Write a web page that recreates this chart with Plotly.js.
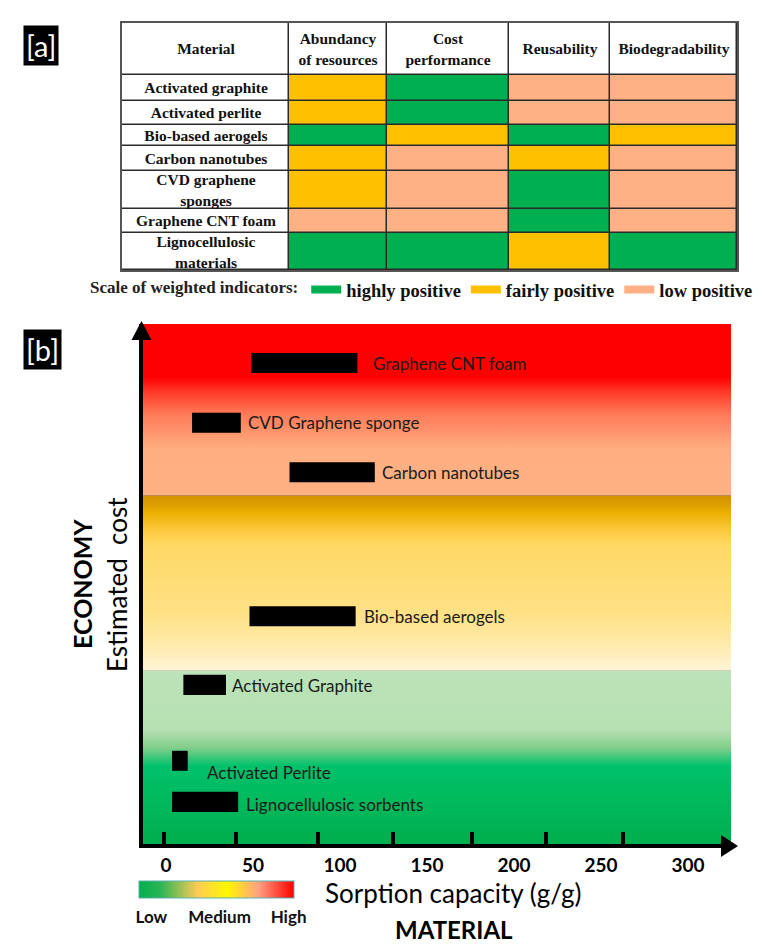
<!DOCTYPE html>
<html><head><meta charset="utf-8">
<script src="https://cdn.plot.ly/plotly-3.0.1.min.js"></script>
<style>html,body{margin:0;padding:0;background:#fff;} #chart{width:781px;height:950px;}</style>
</head><body><div id="chart"></div>
<script>
// ---------- Panel [a] data ----------
const materialsA = ['Activated graphite','Activated perlite','Bio-based aerogels','Carbon nanotubes','CVD graphene<br>sponges','Graphene CNT foam','Lignocellulosic<br>materials'];
const criteria = ['Abundancy<br>of resources','Cost<br>performance','Reusability','Biodegradability'];
const abundancy       = ['fair','fair','high','fair','fair','low','high'];
const costPerformance = ['high','high','fair','low','low','low','high'];
const reusability     = ['low','low','high','fair','high','high','fair'];
const biodegradability= ['low','low','fair','low','low','low','high'];
const scaleKeys   = ['high','fair','low'];
const scaleLabels = ['highly positive','fairly positive','low positive'];

// ---------- Panel [b] data ----------
const materialsB = ['Graphene CNT foam','CVD Graphene sponge','Carbon nanotubes','Bio-based aerogels','Activated Graphite','Activated Perlite','Lignocellulosic sorbents'];
const sorptionMin   = [49, 15, 71, 48, 10, 3.5, 3.5];
const sorptionMax   = [110, 43, 120, 109, 34.5, 12.5, 41.5];
const estimatedCost = [92.5, 81, 71.5, 43.8, 30.6, 16, 8.1];
const sorptionTicks = [0, 50, 100, 150, 200, 250, 300];
const tickMarkVals  = [-1.1, 40.2, 87.4, 130.5, 175.9, 218.4, 262.6];
const costBands     = [0, 33.3, 67, 100];
const levelLabels   = ['Low', 'Medium', 'High'];
const levelVals     = [0.08, 0.52, 0.965];

// ---------- styles / layout helpers ----------
const W = 781, H = 950;
const fx = p => p / W, fy = p => 1 - p / H;
const scaleColors = {white: '#FFFFFF', high: '#00B050', fair: '#FFC000', low: '#FFB084'};
const colWidths  = [167, 98, 122, 101, 127];
const rowHeights = [52, 26, 24, 21, 25, 38, 24, 37];
const cum = a => a.reduce((acc, v) => (acc.push(acc[acc.length - 1] + v), acc), [0]);
const xEdges = cum(colWidths), yEdges = cum(rowHeights);
const codeOf = {white: 0, high: 1, fair: 2, low: 3};
const serif = 'Liberation Serif, Times New Roman, serif';
const sans = 'Lato, Carlito, Calibri, sans-serif';
const xRange = [-13.2, 324.7];

// table heatmap
const cols = [abundancy, costPerformance, reusability, biodegradability];
const zTab = [[0, 0, 0, 0, 0]], tTab = [['Material'].concat(criteria)];
materialsA.forEach((m, i) => {
  zTab.push([0].concat(cols.map(c => codeOf[c[i]])));
  tTab.push([m, '', '', '', '']);
});

const traces = [];
// background gradient bands (base subplot, drawn beneath the overlaid bars)
const bandScales = [
  [[0,'#00AE4D'],[0.24,'#00B95C'],[0.45,'#00C16B'],[0.56,'#84CF8B'],[0.66,'#B6E0B2'],[1,'#BCE3B9']],
  [[0,'#FFF4D8'],[0.18,'#FFE9A3'],[0.33,'#FFE186'],[0.71,'#FFD966'],[0.79,'#FFCB45'],[0.90,'#EBB102'],[0.96,'#D99B00'],[1,'#D39200']],
  [[0,'#FFB183'],[0.27,'#FFAE80'],[0.47,'#FF7C5A'],[0.60,'#FF3C28'],[0.69,'#FF0000'],[1,'#FF0000']]
];
for (let b = 0; b < 3; b++) {
  const lo = costBands[b], hi = costBands[b + 1];
  traces.push({type: 'scatter', mode: 'none', x: [-40, 360, 360, -40, -40], y: [lo, lo, hi, hi, lo],
    fill: 'toself', fillgradient: {type: 'vertical', colorscale: bandScales[b], start: lo, stop: hi},
    hoverinfo: 'skip', showlegend: false, xaxis: 'x', yaxis: 'y'});
}
// range bars (overlay axis so they sit above the background)
traces.push({type: 'bar', orientation: 'h', y: estimatedCost, base: sorptionMin,
  x: sorptionMax.map((v, i) => v - sorptionMin[i]), width: 3.85,
  marker: {color: '#000000', line: {width: 0}}, showlegend: false, hoverinfo: 'skip', xaxis: 'x2', yaxis: 'y'});
// table
traces.push({type: 'heatmap', x: xEdges, y: yEdges, z: zTab, text: tTab, texttemplate: '%{text}',
  textfont: {family: serif, size: 15.5, weight: 700, color: '#111'},
  zmin: 0, zmax: 3, showscale: false, xgap: 1.5, ygap: 1.5,
  colorscale: [[0, scaleColors.white], [1/3, scaleColors.high], [2/3, scaleColors.fair], [1, scaleColors.low]],
  hoverinfo: 'skip', xaxis: 'x3', yaxis: 'y3'});
// legend entries
scaleKeys.forEach((k, i) => traces.push({type: 'scatter', mode: 'lines', x: [null], y: [null], name: scaleLabels[i],
  line: {color: scaleColors[k], width: 8}, xaxis: 'x', yaxis: 'y', hoverinfo: 'skip'}));
// colour scale key
traces.push({type: 'scatter', mode: 'markers', x: [null], y: [null], showlegend: false, hoverinfo: 'skip',
  xaxis: 'x2', yaxis: 'y',
  marker: {color: [0], cmin: 0, cmax: 1, showscale: true,
    colorscale: [[0,'#00B050'],[0.14,'#2DB454'],[0.38,'#FFCC55'],[0.57,'#FFF700'],[0.77,'#FFA183'],[1,'#FF0000']],
    colorbar: {orientation: 'h', x: fx(216.5), xanchor: 'center', y: fy(881), yanchor: 'top',
      len: 155, lenmode: 'pixels', thickness: 17, thicknessmode: 'pixels', xpad: 0, ypad: 0,
      outlinewidth: 1, outlinecolor: '#5AAFB0', ticks: 'outside', ticklen: 5, tickcolor: 'rgba(0,0,0,0)',
      tickvals: levelVals, ticktext: levelLabels,
      tickfont: {family: sans, size: 17, weight: 700, color: '#111'}}}});

const ann = [];
const tag = (t, x, y) => ({text: t, x: fx(x), y: fy(y), xref: 'paper', yref: 'paper', xanchor: 'left', yanchor: 'top',
  showarrow: false, bgcolor: '#000', borderpad: 2, font: {family: sans, size: 29, color: '#fff'}});
ann.push(tag('[a]', 23, 25), tag('[b]', 23, 329));
const labelDx = [14, 5, 5, 6, 4, 17, 6];
const labelDy = [0, 0, 0, 0, -1, -12, -3];
materialsB.forEach((m, i) => ann.push({text: m, x: sorptionMax[i], y: estimatedCost[i], xref: 'x', yref: 'y',
  xanchor: 'left', yanchor: 'middle', showarrow: false, xshift: labelDx[i], yshift: labelDy[i],
  font: {family: sans, size: 17, color: '#1a1a1a'}}));
const centred = {xref: 'paper', yref: 'paper', xanchor: 'center', yanchor: 'middle', showarrow: false};
ann.push(Object.assign({text: '<b>ECONOMY</b>', x: fx(82), y: fy(584), textangle: -90,
  font: {family: sans, size: 25, color: '#000'}}, centred));
ann.push(Object.assign({text: 'Estimated  cost', x: fx(117), y: fy(585), textangle: -90,
  font: {family: sans, size: 26, color: '#000'}}, centred));
ann.push(Object.assign({text: 'Sorption capacity (g/g)', x: fx(453), y: fy(893),
  font: {family: sans, size: 26, color: '#000'}}, centred));
ann.push(Object.assign({text: '<b>MATERIAL</b>', x: fx(454), y: fy(929),
  font: {family: sans, size: 24, color: '#000'}}, centred));

const tri = pts => 'M' + pts.map(p => fx(p[0]) + ',' + fy(p[1])).join(' L') + ' Z';
const shapes = [
  {type: 'path', xref: 'paper', yref: 'paper', path: tri([[141.5, 321], [131.5, 340], [151.5, 340]]), fillcolor: '#000', line: {width: 0}},
  {type: 'line', xref: 'paper', yref: 'paper', x0: fx(728), x1: fx(724), y0: fy(846), y1: fy(846), line: {color: '#000', width: 4}},
  {type: 'path', xref: 'paper', yref: 'paper', path: tri([[738, 846], [721, 835], [721, 857]]), fillcolor: '#000', line: {width: 0}}
];

const noAx = {showgrid: false, zeroline: false, fixedrange: true};
const layout = {
  width: W, height: H, margin: {l: 0, r: 0, t: 0, b: 0}, paper_bgcolor: '#fff', plot_bgcolor: '#2a2a2a',
  font: {family: sans, color: '#000'}, showlegend: true,
  xaxis: Object.assign({}, noAx, {domain: [fx(143), fx(731)], range: xRange, anchor: 'y',
    tickvals: sorptionTicks, ticks: '', showline: true, linewidth: 4, linecolor: '#000',
    tickfont: {family: sans, size: 19, weight: 700, color: '#000'}, ticklabelstandoff: 1}),
  xaxis2: Object.assign({}, noAx, {overlaying: 'x', anchor: 'y', side: 'bottom', range: xRange,
    tickvals: tickMarkVals, ticks: 'inside', ticklen: 12, tickwidth: 4, tickcolor: '#000', showticklabels: false, showline: false}),
  yaxis: Object.assign({}, noAx, {domain: [fy(844), fy(324)], range: [0, 100], anchor: 'x',
    showline: true, linewidth: 4, linecolor: '#000', showticklabels: false, ticks: ''}),
  xaxis3: Object.assign({}, noAx, {domain: [fx(122), fx(737)], range: [0, xEdges[xEdges.length - 1]], anchor: 'y3',
    showticklabels: false, ticks: '', showline: true, mirror: true, linecolor: '#555', linewidth: 2}),
  yaxis3: Object.assign({}, noAx, {domain: [fy(270), fy(23)], range: [yEdges[yEdges.length - 1], 0], anchor: 'x3',
    showticklabels: false, ticks: '', showline: true, mirror: true, linecolor: '#555', linewidth: 2}),
  legend: {orientation: 'h', x: fx(88), xanchor: 'left', y: fy(271), yanchor: 'top', itemwidth: 30,
    bgcolor: 'rgba(0,0,0,0)', traceorder: 'normal',
    title: {text: 'Scale of weighted indicators:', side: 'left', font: {family: serif, size: 17, color: '#222'}},
    font: {family: serif, size: 18.5, weight: 700, color: '#111'}},
  annotations: ann, shapes: shapes
};
Plotly.newPlot('chart', traces, layout, {staticPlot: true, displayModeBar: false});
</script></body></html>
